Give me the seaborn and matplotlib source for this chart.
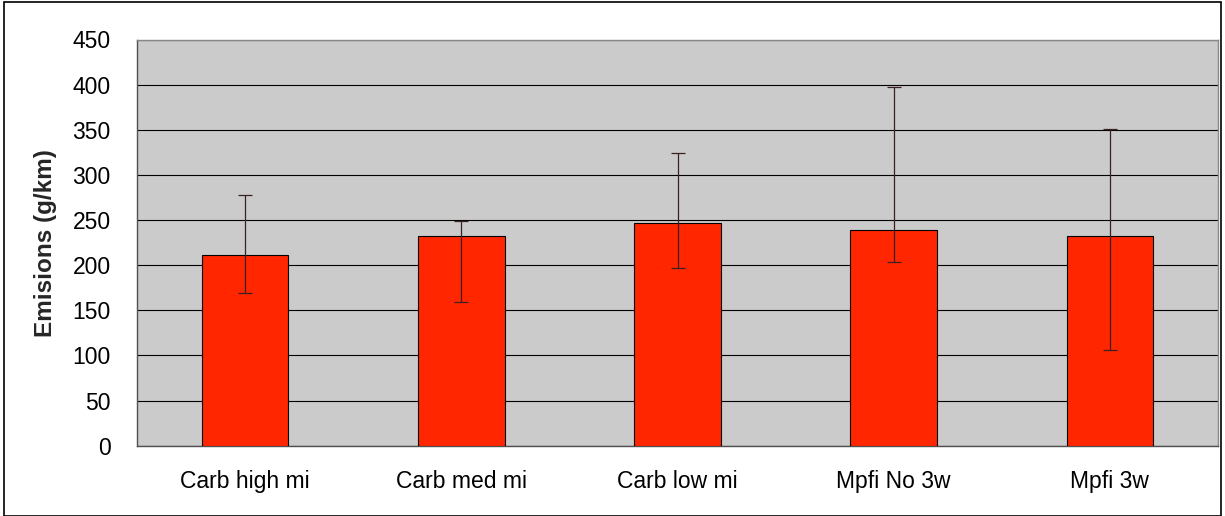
import matplotlib
matplotlib.use("Agg")
import matplotlib.pyplot as plt
import seaborn as sns
import numpy as np
import pandas as pd
from matplotlib.patches import Rectangle
from matplotlib.ticker import FixedLocator

categories = ["Carb high mi", "Carb med mi", "Carb low mi", "Mpfi No 3w", "Mpfi 3w"]
emissions = [211, 232, 247, 239, 232]
err_high = [278, 249, 324, 397, 351]
err_low = [169, 159, 197, 204, 106]
y_ticks = [0, 50, 100, 150, 200, 250, 300, 350, 400, 450]

sns.set_style("white")
plt.rcParams['font.family'] = ['Liberation Sans', 'DejaVu Sans']

df = pd.DataFrame({"category": categories, "emissions": emissions})

fig = plt.figure(figsize=(12.25, 5.16), dpi=100)
ax = fig.add_axes([137 / 1225, 1 - 445.7 / 516, (1218 - 137) / 1225, (445.7 - 39.5) / 516])
ax.set_facecolor("#CBCBCB")

sns.barplot(data=df, x="category", y="emissions", color="#FF2600", width=0.4,
            edgecolor="black", linewidth=0.8, saturation=1, ax=ax, zorder=3)

x = np.arange(len(categories))
vals = np.array(emissions)
yerr = np.vstack([vals - np.array(err_low), np.array(err_high) - vals])
ax.errorbar(x, vals, yerr=yerr, fmt="none", ecolor="#3a2020", elinewidth=0.9,
            capsize=4.7, capthick=0.9, zorder=4)

ax.set_ylim(0, 450)
ax.set_xlim(-0.5, len(categories) - 0.5)
ax.set_yticks(y_ticks)
ax.set_yticklabels([str(t) for t in y_ticks], fontsize=16.5)
ax.yaxis.grid(True, color="black", linewidth=0.8, zorder=1)
ax.set_axisbelow(True)

ax.set_xticks(x)
ax.set_xticklabels(categories, fontsize=16.5)
ax.tick_params(axis="x", which="major", length=0, pad=17.5)
ax.xaxis.set_minor_locator(FixedLocator(np.arange(-0.5, len(categories), 1.0)))
ax.tick_params(axis="x", which="minor", length=5, width=0.8, color="#404040", direction="out")
ax.tick_params(axis="y", which="major", length=5, width=0.8, color="#404040", direction="out", pad=14)
ax.tick_params(axis="both", labelcolor="black")

ax.set_xlabel("")
ax.set_ylabel("Emisions (g/km)", fontsize=17.5, fontweight="bold")
ax.yaxis.set_label_coords(-0.074, 0.5)

for side in ["left", "bottom"]:
    ax.spines[side].set_color("#505050")
    ax.spines[side].set_linewidth(1.0)
for side in ["top", "right"]:
    ax.spines[side].set_visible(True)
    ax.spines[side].set_color("#888888")
    ax.spines[side].set_linewidth(1.0)

fig.patches.append(Rectangle((4 / 1225, 0), 1 - 8 / 1225, 1 - 2 / 516, transform=fig.transFigure,
                             fill=False, edgecolor="black", linewidth=1.2))

fig.savefig("out.png", dpi=100)
